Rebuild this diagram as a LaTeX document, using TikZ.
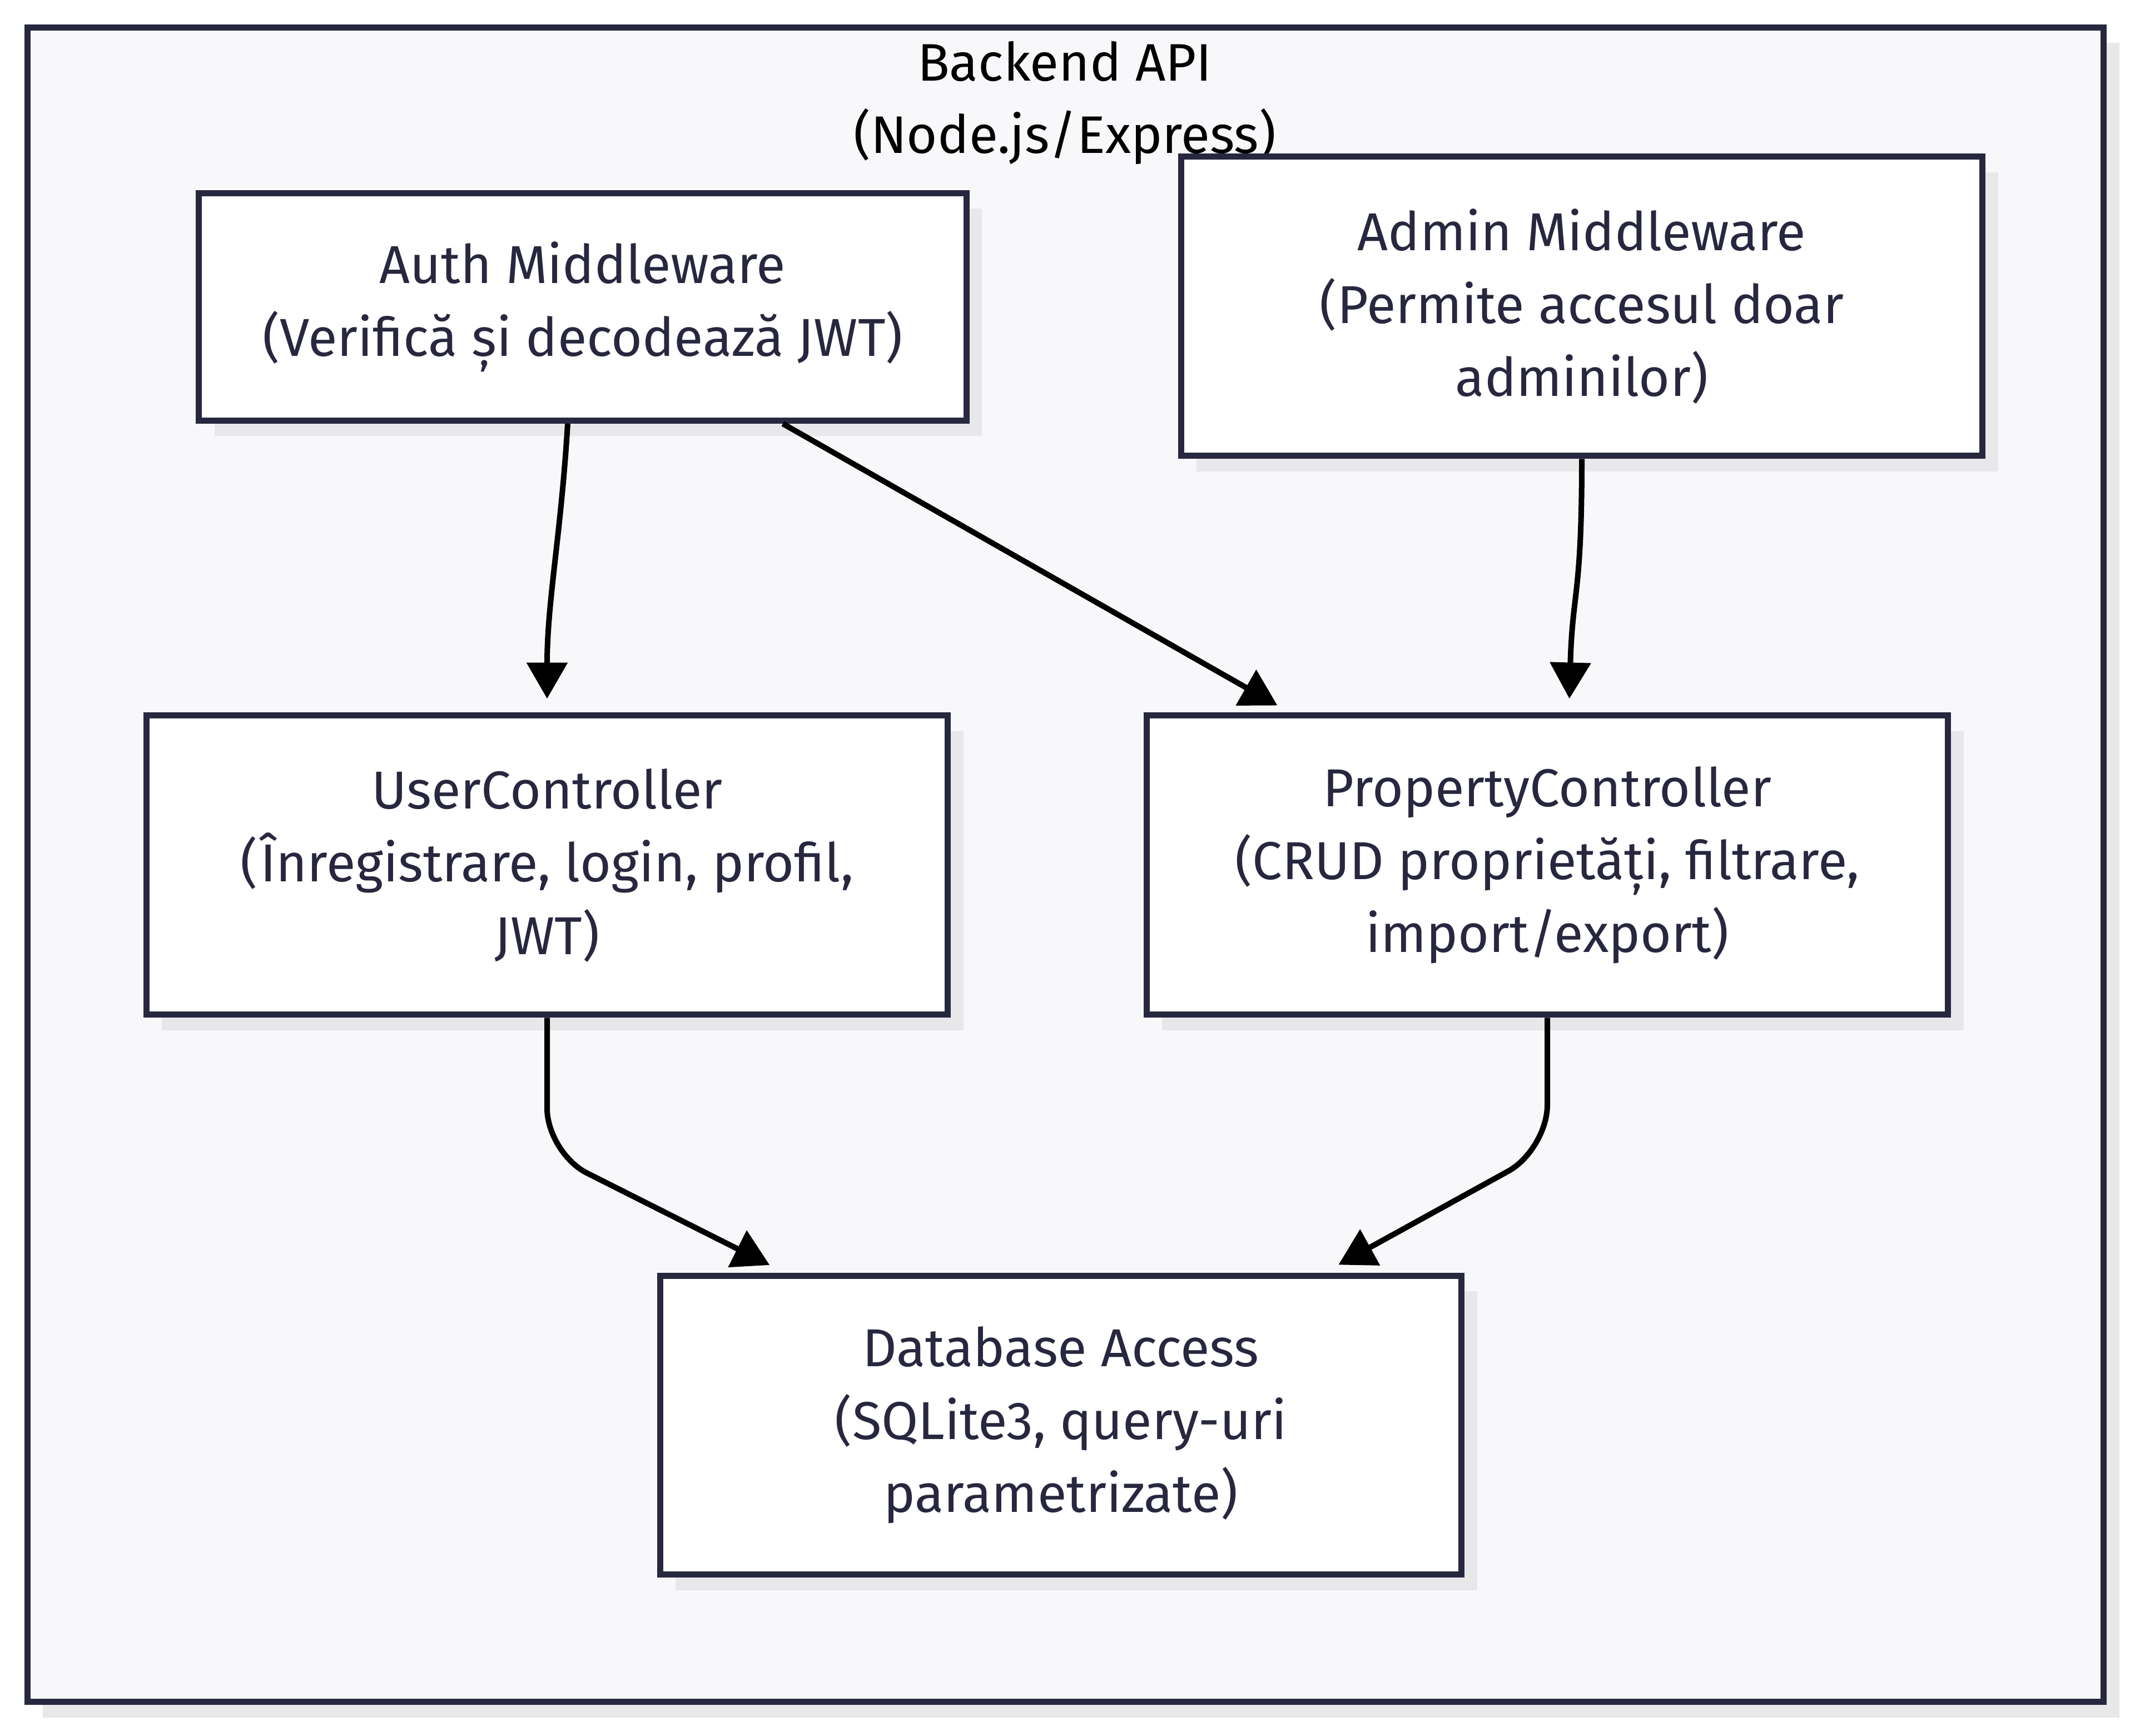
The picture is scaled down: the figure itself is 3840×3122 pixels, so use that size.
\documentclass[tikz,border=0pt]{standalone}
\usepackage{fontspec}
\setmainfont{Fira Sans}
\usetikzlibrary{arrows.meta,shadows}
\definecolor{colorInk}{HTML}{27273F}
\definecolor{colorPanel}{HTML}{F8F8FA}
\definecolor{colorShade}{HTML}{E8E8EB}
\tikzset{
  every shade/.style={
    drop shadow={shadow xshift=2.8pt,shadow yshift=-2.8pt,fill=colorShade,opacity=1},
  },
  compbox/.style={
    every shade,draw=colorInk,line width=1.1pt,fill=white,text=colorInk,
    align=center,inner sep=0pt,minimum width=144.2pt,minimum height=53.8pt,
    font=\fontsize{9.6}{13.1}\selectfont,
  },
  flow/.style={
    draw=black,line width=1pt,-{Triangle[length=6.5pt,width=7.2pt]},
  },
}

\begin{document}
\begin{tikzpicture}[x=0.1pt,y=-0.1pt]
   \useasboundingbox[fill=white] (0,0) rectangle (3840,3122);

   % PANEL
   \node[every shade,draw=colorInk,line width=1.1pt,fill=colorPanel,
         minimum width=373.5pt,minimum height=301.2pt] (api) at (1916.5,1555) {};
   \node[align=center,font=\fontsize{9.5}{13}\selectfont] (apititle) at (1915,185)
        {Backend API\\(Node.js/Express)};

   % NODES
   \node[compbox,minimum width=138.1pt,minimum height=40.9pt] (auth) at (1048,552)
        {Auth Middleware\\(Verifică și decodează JWT)};
   \node[compbox] (admin) at (2845,551)
        {Admin Middleware\\(Permite accesul doar\\adminilor)};
   \node[compbox] (user) at (984,1556)
        {UserController\\(Înregistrare, login, profil,\\JWT)};
   \node[compbox] (prop) at (2783,1556)
        {PropertyController\\(CRUD proprietăți, filtrare,\\import/export)};
   \node[compbox] (db) at (1908,2563)
        {Database Access\\(SQLite3, query-uri\\parametrizate)};

   % DRAW FLOWS
   \draw[flow,shorten >=2.5pt] ([xshift=-2.7pt]auth.south) .. controls +(-12,200) and +(0,-200) .. (user.north);
   \draw[flow,shorten >=2.6pt] ([xshift=36pt]auth.south) -- ([xshift=-46.3pt]prop.north);
   \draw[flow,shorten >=2.5pt] (admin.south) .. controls +(0,250) and +(6,-220) .. ([xshift=3.9pt]prop.north);
   \draw[flow,rounded corners=8pt,shorten >=3pt] (user.south) -- ++(0,243) -- ([xshift=-49.7pt]db.north);
   \draw[flow,rounded corners=8pt,shorten >=2.9pt] (prop.south) -- ++(0,237) -- ([xshift=47.4pt]db.north);

\end{tikzpicture}
\end{document}
